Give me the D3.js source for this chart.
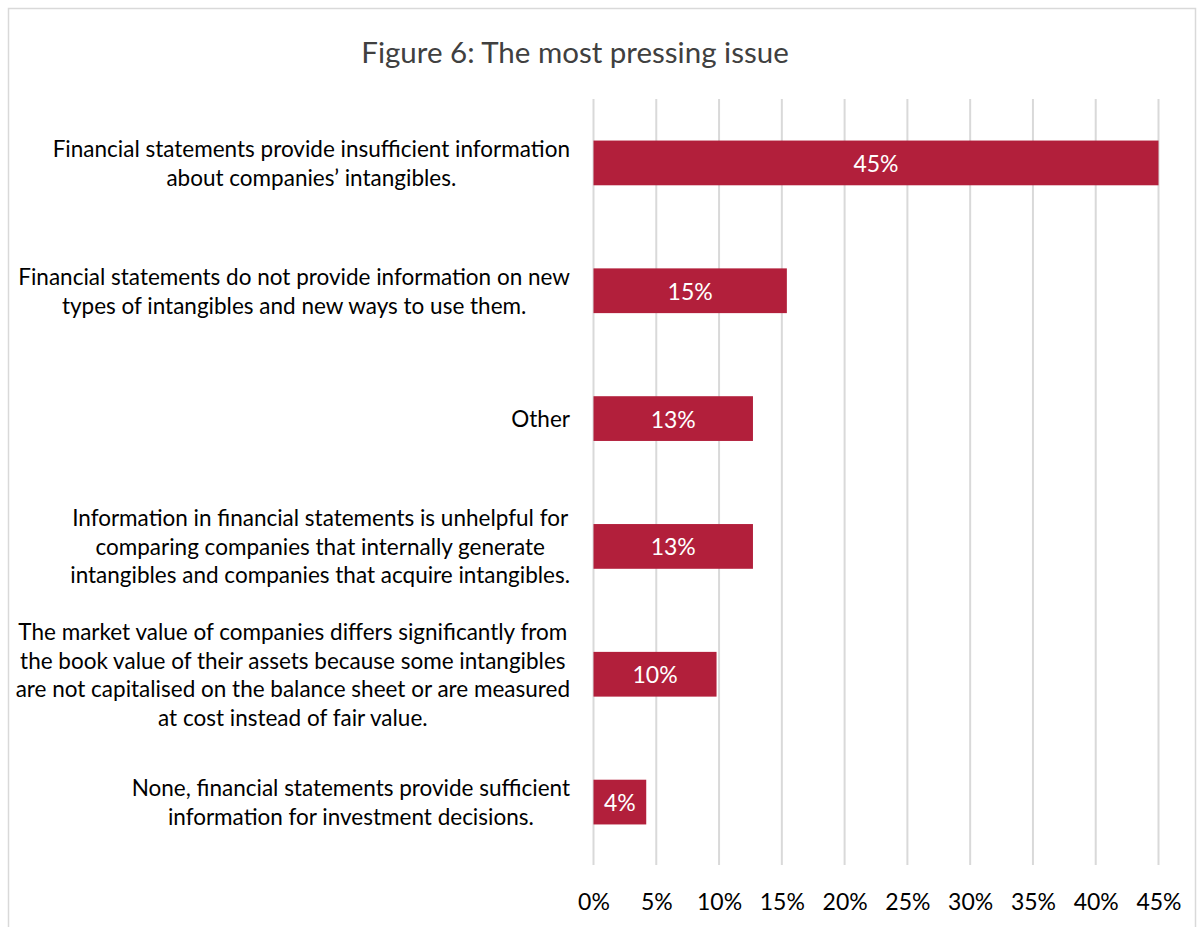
<!DOCTYPE html>
<html lang="en">
<head>
  <meta charset="UTF-8">
  <title>Figure 6</title>
  <style>
    body { margin: 0; background: #fff; }
    text { font-family: Lato, "Open Sans", sans-serif; }
  </style>
</head>
<body>
  <svg id="svg" width="1197" height="927"></svg>

  <script src="https://d3js.org/d3.v7.min.js"></script>
  <script>
    // data
    const categories = [
      ['Financial statements provide insufficient information', 'about companies\u2019 intangibles.'],
      ['Financial statements do not provide information on new', 'types of intangibles and new ways to use them.'],
      ['Other'],
      ['Information in financial statements is unhelpful for', 'comparing companies that internally generate', 'intangibles and companies that acquire intangibles.'],
      ['The market value of companies differs significantly from', 'the book value of their assets because some intangibles', 'are not capitalised on the balance sheet or are measured', 'at cost instead of fair value.'],
      ['None, financial statements provide sufficient', 'information for investment decisions.']
    ]
    const values = [0.45, 0.154, 0.127, 0.127, 0.098, 0.042]
    const ticks = [0, 0.05, 0.10, 0.15, 0.20, 0.25, 0.30, 0.35, 0.40, 0.45]
    const title = 'Figure 6: The most pressing issue'

    const data = categories.map((c, i) => ({ id: i, lines: c, value: values[i] }))

    const svg = d3.select('#svg')
    const barColor = '#b21f3b'
    const gridColor = '#d9d9d9'

    // chart border
    svg.append('rect')
      .attr('x', 8.5).attr('y', 8.5)
      .attr('width', 1187).attr('height', 940)
      .attr('fill', '#fff')
      .attr('stroke', gridColor)
      .attr('stroke-width', 1.5)

    svg.append('text')
      .attr('x', 575).attr('y', 56)
      .attr('text-anchor', 'middle')
      .attr('dominant-baseline', 'middle')
      .attr('fill', '#404040')
      .style('font-size', '29.5px')
      .text(title)

    const xscale = d3.scaleLinear()
      .domain([0, 0.45])
      .range([593.5, 1158.5])

    const yscale = d3.scaleBand()
      .domain(data.map(d => d.id))
      .range([99, 866])
      .paddingInner(0.65)
      .paddingOuter(0.325)

    // gridlines
    svg.append('g')
      .selectAll('line')
      .data(ticks)
      .enter()
      .append('line')
      .attr('x1', d => xscale(d)).attr('x2', d => xscale(d))
      .attr('y1', 99).attr('y2', 865)
      .attr('stroke', gridColor)
      .attr('stroke-width', 2)

    // bars
    svg.append('g')
      .selectAll('rect')
      .data(data)
      .enter()
      .append('rect')
      .attr('x', xscale(0))
      .attr('y', d => yscale(d.id))
      .attr('width', d => xscale(d.value) - xscale(0))
      .attr('height', yscale.bandwidth())
      .attr('fill', barColor)

    // value labels
    svg.append('g')
      .selectAll('text')
      .data(data)
      .enter()
      .append('text')
      .attr('x', d => (xscale(0) + xscale(d.value)) / 2)
      .attr('y', d => yscale(d.id) + yscale.bandwidth() / 2)
      .attr('text-anchor', 'middle')
      .attr('dominant-baseline', 'central')
      .attr('fill', '#fff')
      .style('font-size', '23px')
      .text(d => d3.format('.0%')(d.value))

    // category labels, centred lines in a block that ends at the axis
    const lineH = 28.5
    const labels = svg.append('g')
      .selectAll('g')
      .data(data)
      .enter()
      .append('g')

    labels.each(function (d) {
      const g = d3.select(this)
      const cy = yscale(d.id) + yscale.bandwidth() / 2
      const top = cy - (d.lines.length - 1) * lineH / 2
      const t = g.selectAll('text')
        .data(d.lines)
        .enter()
        .append('text')
        .attr('y', (l, i) => top + i * lineH)
        .attr('dominant-baseline', 'central')
        .attr('text-anchor', 'middle')
        .attr('fill', '#000')
        .style('font-size', '22.5px')
        .text(l => l)
      const w = d3.max(t.nodes(), n => n.getComputedTextLength())
      t.attr('x', 570 - w / 2)
    })

    // x axis
    const bottomAxis = d3.axisBottom(xscale)
      .tickValues(ticks)
      .tickSize(0)
      .tickPadding(0)
      .tickFormat(d3.format('.0%'))

    const axis = svg.append('g')
      .attr('transform', 'translate(0, 901)')
      .call(bottomAxis)
    axis.select('.domain').remove()
    axis.selectAll('text')
      .attr('dy', null)
      .attr('dominant-baseline', 'central')
      .attr('fill', '#000')
      .style('font-family', 'Lato, "Open Sans", sans-serif')
      .style('font-size', '23px')
  </script>
</body>
</html>
